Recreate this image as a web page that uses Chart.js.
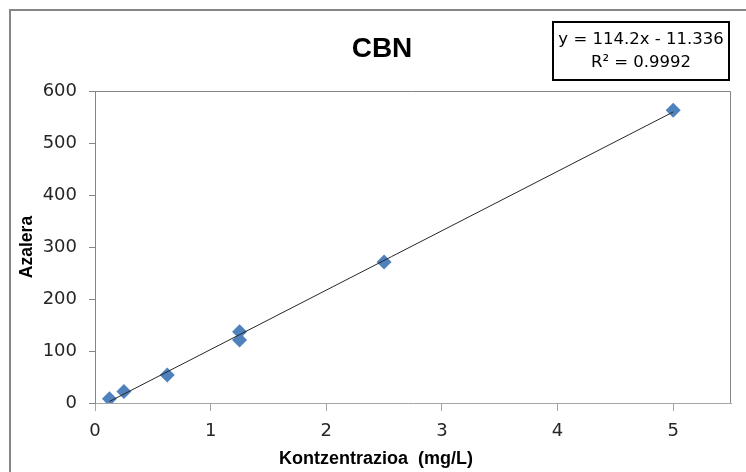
<!DOCTYPE html>
<html>
<head>
<meta charset="utf-8">
<script src="https://cdn.jsdelivr.net/npm/chart.js@4/dist/chart.umd.min.js"></script>
<style>
  html, body { margin: 0; padding: 0; background: #fff; }
  #wrap { width: 746px; height: 472px; position: relative; }
</style>
</head>
<body>
<div id="wrap"><canvas id="c" width="746" height="472"></canvas></div>
<script>
// Calibration data: concentration (mg/L) against measured area
const conc = [0.125, 0.25, 0.625, 1.25, 1.25, 2.5, 5];
const azalera = [8, 22, 54, 137, 121, 271, 563];

// Linear fit reported for the calibration
const fitSlope = 114.2;
const fitIntercept = -11.336;
const fitR2 = 0.9992;

const titleText = 'CBN';
const xTitle = 'Kontzentrazioa  (mg/L)';
const yTitle = 'Azalera';
const xTicks = [0, 1, 2, 3, 4, 5];
const yTicks = [0, 100, 200, 300, 400, 500, 600];

const points = conc.map((x, i) => ({ x, y: azalera[i] }));
const xMin = Math.min(...conc), xMax = Math.max(...conc);
const trend = [xMin, xMax].map(x => ({ x, y: fitSlope * x + fitIntercept }));

const eqLine1 = 'y = ' + fitSlope.toFixed(1) + 'x - ' + Math.abs(fitIntercept).toFixed(3);
const eqLine2 = 'R\u00B2 = ' + fitR2.toFixed(4);

const frameDecor = {
  id: 'frameDecor',
  beforeDraw(chart) {
    const ctx = chart.ctx;
    ctx.save();
    // chart outer frame
    ctx.fillStyle = '#868686';
    ctx.fillRect(9, 9, 746 - 9, 2);
    ctx.fillRect(9, 9, 2, 472 - 9);
    ctx.restore();
  },
  beforeDatasetsDraw(chart) {
    const { ctx, chartArea: a } = chart;
    ctx.save();
    ctx.strokeStyle = '#868686';
    ctx.lineWidth = 1;
    ctx.beginPath();
    ctx.moveTo(a.left, a.top + 0.5);
    ctx.lineTo(a.right - 0.5, a.top + 0.5);
    ctx.lineTo(a.right - 0.5, a.bottom);
    ctx.stroke();
    ctx.restore();
  },
  afterDraw(chart) {
    const ctx = chart.ctx;
    ctx.save();
    // title
    ctx.fillStyle = '#000';
    ctx.textAlign = 'center';
    ctx.textBaseline = 'middle';
    ctx.font = 'bold 28px "Liberation Sans", Arial, sans-serif';
    ctx.fillText(titleText, 382, 49);
    // x axis title
    ctx.font = 'bold 18px "Liberation Sans", Arial, sans-serif';
    ctx.fillText(xTitle, 376, 459);
    // equation box
    ctx.lineWidth = 2;
    ctx.strokeStyle = '#000';
    ctx.strokeRect(553, 22, 176, 58);
    ctx.font = '16.5px "DejaVu Sans", sans-serif';
    ctx.fillText(eqLine1, 641, 40);
    ctx.fillText(eqLine2, 641, 63);
    ctx.restore();
  }
};

new Chart(document.getElementById('c'), {
  type: 'scatter',
  data: {
    datasets: [
      {
        label: 'Azalera',
        data: points,
        pointStyle: 'rectRot',
        pointRadius: 7.5,
        pointHoverRadius: 7.5,
        backgroundColor: '#4F81BD',
        borderColor: '#4F81BD',
        borderWidth: 0,
        order: 1
      },
      {
        label: 'Linear',
        type: 'line',
        data: trend,
        borderColor: '#262626',
        borderWidth: 1,
        pointRadius: 0,
        fill: false,
        order: 0
      }
    ]
  },
  options: {
    responsive: false,
    animation: false,
    events: [],
    layout: { padding: { left: 0, top: 91, right: 15, bottom: 0 } },
    plugins: {
      legend: { display: false },
      title: { display: false },
      tooltip: { enabled: false }
    },
    scales: {
      x: {
        type: 'linear',
        min: 0,
        max: 5.5,
        afterFit(s) { s.height = 69; },
        afterBuildTicks(s) { s.ticks = xTicks.map(v => ({ value: v })); },
        border: { display: true, color: '#A6A6A6', width: 1 },
        grid: { drawOnChartArea: false, drawTicks: true, tickLength: 8, color: '#A6A6A6' },
        ticks: {
          padding: 10,
          color: '#262626',
          font: { family: '"DejaVu Sans", sans-serif', size: 18 },
          maxRotation: 0
        }
      },
      y: {
        min: 0,
        max: 600,
        afterFit(s) { s.width = 95; },
        afterBuildTicks(s) { s.ticks = yTicks.map(v => ({ value: v })); },
        border: { display: true, color: '#868686', width: 1 },
        grid: { drawOnChartArea: false, drawTicks: true, tickLength: 6, color: '#868686' },
        ticks: {
          padding: 12,
          color: '#262626',
          font: { family: '"DejaVu Sans", sans-serif', size: 18 }
        },
        title: {
          display: true,
          text: yTitle,
          color: '#000',
          font: { family: '"Liberation Sans", Arial, sans-serif', size: 17.5, weight: 'bold' },
          padding: { top: 16.5, bottom: 0 }
        }
      }
    }
  },
  plugins: [frameDecor]
});
</script>
</body>
</html>
